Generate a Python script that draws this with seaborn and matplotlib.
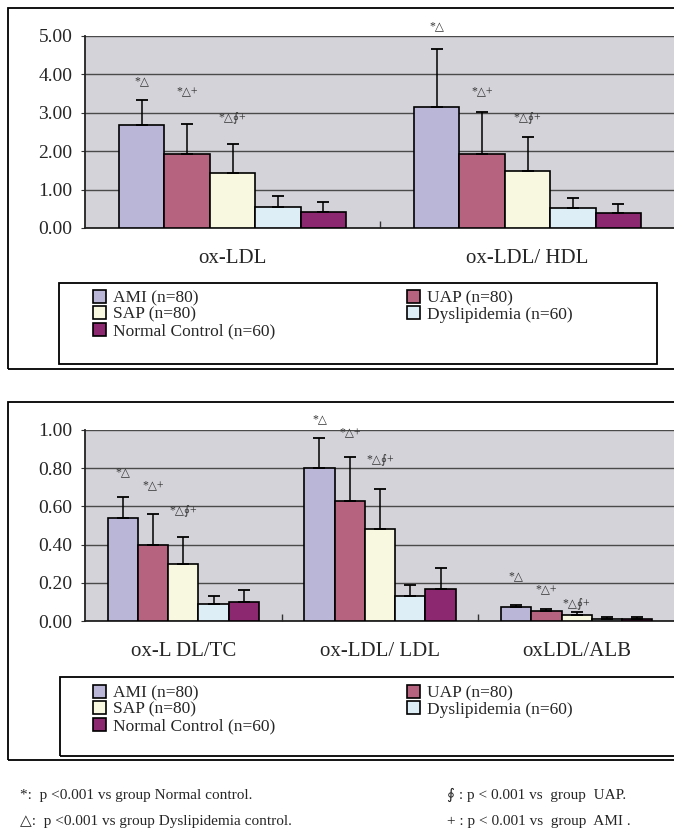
import numpy as np
import pandas as pd
import seaborn as sns
from matplotlib import pyplot as plt
from matplotlib.patches import Rectangle
from matplotlib.ticker import FormatStrFormatter

# groups and colours
groups = ["AMI (n=80)", "UAP (n=80)", "SAP (n=80)", "Dyslipidemia (n=60)", "Normal Control (n=60)"]
palette = ["#B9B6D8", "#B5637F", "#F8F8E0", "#DDEEF6", "#8B2870"]
marks = ["*\u25b3", "*\u25b3+", "*\u25b3\u222e+", "", ""]

# upper chart
cats_top = ["ox-LDL", "ox-LDL/ HDL"]
oxldl_mean = [2.69, 1.93, 1.44, 0.55, 0.42]
oxldl_sd = [0.65, 0.79, 0.75, 0.28, 0.27]
oxldl_hdl_mean = [3.15, 1.93, 1.48, 0.52, 0.40]
oxldl_hdl_sd = [1.50, 1.09, 0.89, 0.26, 0.23]

# lower chart
cats_bot = ["ox-L DL/TC", "ox-LDL/ LDL", "oxLDL/ALB"]
oxldl_tc_mean = [0.54, 0.40, 0.30, 0.09, 0.10]
oxldl_tc_sd = [0.11, 0.16, 0.14, 0.04, 0.06]
oxldl_ldl_mean = [0.80, 0.63, 0.48, 0.13, 0.17]
oxldl_ldl_sd = [0.16, 0.23, 0.21, 0.06, 0.11]
oxldl_alb_mean = [0.071, 0.052, 0.033, 0.012, 0.012]
oxldl_alb_sd = [0.014, 0.012, 0.012, 0.007, 0.007]

# heights where the significance marks sit (hand placed in the original)
mark_y_top = [[3.81, 3.55, 2.90], [5.26, 3.55, 2.90]]
mark_y_bot = [[0.78, 0.71, 0.58], [1.056, 0.99, 0.85], [0.235, 0.165, 0.096]]

W, H = 674, 831


def fx(x):
    return x / W


def fy(y):
    return 1 - y / H


def draw_panel(ax, cats, means, sds, mark_y, ymax, step):
    rows = []
    for c, m in zip(cats, means):
        for g, v in zip(groups, m):
            rows.append({"category": c, "group": g, "value": v})
    df = pd.DataFrame(rows)

    ax.set_facecolor("#D4D3D9")
    ax.set_axisbelow(True)
    sns.barplot(data=df, x="category", y="value", hue="group", order=cats,
                hue_order=groups, palette=palette, saturation=1, width=5 / 6.5,
                edgecolor="black", linewidth=1.2, errorbar=None, ax=ax, zorder=3)

    # one sided error bars and the marks above them
    bar_sets = list(ax.containers)
    for j, bars in enumerate(bar_sets):
        for i, bar in enumerate(bars):
            x = bar.get_x() + bar.get_width() / 2
            h = bar.get_height()
            ax.errorbar(x, h, yerr=[[0], [sds[i][j]]], fmt="none", ecolor="black",
                        elinewidth=1.1, capsize=4, capthick=1.3, zorder=4)
            if marks[j]:
                ax.text(x, mark_y[i][j], marks[j], ha="center", va="center",
                        fontsize=8.5, color="#333333",
                        family=["Liberation Serif", "DejaVu Sans"])

    leg = ax.get_legend()
    handles = leg.legend_handles
    labels = [t.get_text() for t in leg.get_texts()]
    leg.remove()

    ax.set_xlim(-0.5, len(cats) - 0.5)
    ax.set_ylim(0, ymax)
    ax.set_yticks(np.arange(0, ymax + step / 2, step))
    ax.yaxis.set_major_formatter(FormatStrFormatter("%.2f"))
    ax.set_xticks(np.arange(0.5, len(cats) - 1), minor=True)
    ax.yaxis.grid(True, color="#4a4a4a", linewidth=1.0)
    ax.xaxis.grid(False)
    ax.set_xlabel("")
    ax.set_ylabel("")
    ax.tick_params(axis="x", which="major", length=0, pad=15, labelsize=15, bottom=True)
    ax.tick_params(axis="x", which="minor", direction="in", length=5, width=1.0,
                   color="#333333", bottom=True)
    ax.tick_params(axis="y", length=3, direction="out", pad=6, labelsize=14,
                   left=True, color="#333333")
    for s in ["top", "right"]:
        ax.spines[s].set_visible(False)
    for s in ["left", "bottom"]:
        ax.spines[s].set_color("#222222")
        ax.spines[s].set_linewidth(1.3)
    return handles, labels


def main():
    sns.set_style("white")
    plt.rcParams["font.family"] = ["Liberation Serif", "DejaVu Sans"]

    fig = plt.figure(figsize=(W / 100, H / 100), dpi=100)

    ax1 = fig.add_axes([fx(85), fy(228), fx(675) - fx(85), fy(36) - fy(228)])
    handles, labels = draw_panel(ax1, cats_top, [oxldl_mean, oxldl_hdl_mean],
                                 [oxldl_sd, oxldl_hdl_sd], mark_y_top, 5.0, 1.0)

    ax2 = fig.add_axes([fx(85), fy(621), fx(675) - fx(85), fy(430) - fy(621)])
    draw_panel(ax2, cats_bot, [oxldl_tc_mean, oxldl_ldl_mean, oxldl_alb_mean],
               [oxldl_tc_sd, oxldl_ldl_sd, oxldl_alb_sd], mark_y_bot, 1.0, 0.2)

    # legend entries run across rows like the original
    order = [0, 2, 4, 1, 3]
    for top in [290, 685]:
        fig.legend([handles[k] for k in order], [labels[k] for k in order], ncol=2,
                   loc="upper left", bbox_to_anchor=(fx(93), fy(top)), frameon=False,
                   fontsize=12.5, handlelength=0.75, handleheight=0.75,
                   handletextpad=0.4, columnspacing=7.6, labelspacing=0.0,
                   borderpad=0, borderaxespad=0)

    # panel frames and legend frames
    frames = [(8, 8, 700, 369), (59, 283, 657, 364), (8, 402, 700, 760), (60, 677, 700, 756)]
    for x0, y0, x1, y1 in frames:
        fig.add_artist(Rectangle((fx(x0), fy(y1)), fx(x1) - fx(x0), fy(y0) - fy(y1),
                                 transform=fig.transFigure, fill=False,
                                 edgecolor="black", linewidth=1.3, clip_on=False))

    fn = dict(fontsize=11, va="center", family=["Liberation Serif", "DejaVu Sans"])
    fig.text(fx(20), fy(795), "*:  p <0.001 vs group Normal control.", **fn)
    fig.text(fx(20), fy(822), "\u25b3:  p <0.001 vs group Dyslipidemia control.", **fn)
    fig.text(fx(447), fy(795), "\u222e : p < 0.001 vs  group  UAP.", **fn)
    fig.text(fx(447), fy(822), "+ : p < 0.001 vs  group  AMI .", **fn)

    fig.savefig("out.png", dpi=100)


if __name__ == "__main__":
    main()
